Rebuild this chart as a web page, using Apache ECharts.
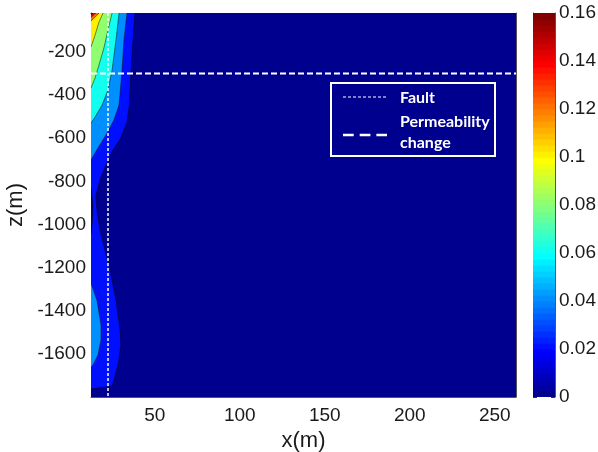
<!DOCTYPE html>
<html>
<head>
<meta charset="utf-8">
<script src="https://cdn.jsdelivr.net/npm/echarts@6/dist/echarts.min.js"></script>
<style>
  html, body { margin: 0; padding: 0; background: #ffffff; }
  #chart { width: 598px; height: 452px; }
</style>
</head>
<body>
<div id="chart"></div>
<script>
// Axis ranges and tick labels
const xRange = [12.5, 262.5];
const zRange = [-1800, -20];
const xTicks = [50, 100, 150, 200, 250];
const zTicks = [-1600, -1400, -1200, -1000, -800, -600, -400, -200];
const cbTicks = [0, 0.02, 0.04, 0.06, 0.08, 0.1, 0.12, 0.14, 0.16];
const cbRange = [0, 0.16];

// Contour levels of the filled plot
const levels = [0, 0.02, 0.04, 0.06, 0.08, 0.1, 0.12, 0.14, 0.16];

// Contour lines as [x, z] points; each starts at the top edge or the wall (x = 12.5)
// and ends on the wall, so the enclosed region lies against the wall.
const contour016 = [[13.7, -20], [12.5, -29]];
const contour014 = [[15.4, -20], [14.0, -29], [12.5, -41]];
const contour012 = [[17.2, -20], [14.9, -39], [12.5, -57]];
const contour010 = [[19.6, -20], [17.2, -62], [14.9, -122], [12.5, -178]];
const contour008 = [[24.9, -20], [22.5, -99], [20.1, -182], [17.2, -261], [14.9, -321], [12.5, -368]];
const contour006 = [[29.0, -20], [27.2, -145], [24.9, -284], [22.5, -377], [19.0, -447], [14.9, -502], [12.5, -530]];
const contour004Upper = [[33.7, -20], [31.9, -145], [30.7, -294], [29.0, -447], [26.0, -516], [21.3, -586], [16.6, -646], [12.5, -701]];
const contour004Lower = [[12.5, -1272], [16.0, -1351], [18.4, -1466], [18.4, -1536], [16.6, -1605], [13.7, -1652], [12.5, -1661]];
const contour002 = [[38.4, -20], [37.2, -145], [36.0, -294], [35.1, -447], [33.7, -525], [30.1, -600], [25.4, -655],
  [21.3, -725], [17.8, -794], [15.4, -864], [16.0, -933], [17.8, -1026], [20.7, -1119], [23.7, -1211], [27.2, -1351],
  [29.6, -1490], [30.1, -1559], [28.4, -1652], [26.0, -1721], [24.9, -1749], [12.5, -1763]];
// pocket below 0.02 against the wall
const pocket002 = [[12.5, -831], [13.7, -910], [13.1, -1003], [12.5, -1049]];

// Fault and permeability-change lines
const faultX = 22.5;
const permZ = -300;

// MATLAB-style jet colormap (64 entries)
function jet(k, m) {
  m = m || 64;
  const n = Math.ceil(m / 4);
  const u = function (j) {
    if (j < 1 || j > 3 * n - 1) return 0;
    if (j <= n) return j / n;
    if (j <= 2 * n - 1) return 1;
    return (3 * n - j) / n;
  };
  const off = Math.ceil(n / 2) - (m % 4 === 1 ? 1 : 0);
  const g = u(k - off), r = u(k - off - n), b = u(k - off + n);
  return 'rgb(' + Math.round(r * 255) + ',' + Math.round(g * 255) + ',' + Math.round(b * 255) + ')';
}
function levelColor(v) {
  const k = Math.min(64, Math.floor(v / (cbRange[1] - cbRange[0]) * 64 + 1e-9) + 1);
  return jet(k);
}

// Regions drawn from lowest to highest level
const regions = [
  { level: levels[0], line: [[xRange[0], zRange[1]], [xRange[1], zRange[1]], [xRange[1], zRange[0]], [xRange[0], zRange[0]]], edge: false },
  { level: levels[1], line: contour002, edge: true },
  { level: levels[0], line: pocket002, edge: true },
  { level: levels[2], line: contour004Upper, edge: true },
  { level: levels[2], line: contour004Lower, edge: true },
  { level: levels[3], line: contour006, edge: true },
  { level: levels[4], line: contour008, edge: true },
  { level: levels[5], line: contour010, edge: true },
  { level: levels[6], line: contour012, edge: true },
  { level: levels[7], line: contour014, edge: true },
  { level: levels[8], line: contour016, edge: true }
];

function renderRegion(params, api) {
  const reg = regions[params.dataIndex];
  const pts = reg.line.map(p => api.coord(p));
  const ring = pts.slice();
  // close along the wall, through the top-left corner when the line starts on the top edge
  const first = reg.line[0];
  if (reg.edge && first[0] !== xRange[0]) ring.push(api.coord([xRange[0], zRange[1]]));
  const children = [{
    type: 'polygon',
    shape: { points: ring },
    style: { fill: levelColor(reg.level), stroke: null }
  }];
  if (reg.edge) {
    children.push({
      type: 'polyline',
      shape: { points: pts },
      style: { fill: null, stroke: 'rgba(0,0,0,0.8)', lineWidth: 0.6 }
    });
  }
  return { type: 'group', children: children };
}

// Colorbar: one cell per colormap entry
const cbCells = [];
for (let k = 1; k <= 64; k++) cbCells.push([k]);
function renderCbCell(params, api) {
  const k = api.value(0);
  const step = (cbRange[1] - cbRange[0]) / 64;
  const p0 = api.coord([0, cbRange[0] + (k - 1) * step]);
  const p1 = api.coord([1, cbRange[0] + k * step]);
  return {
    type: 'rect',
    shape: { x: p0[0], y: p1[1], width: p1[0] - p0[0], height: p0[1] - p1[1] + 0.6 },
    style: { fill: jet(k), stroke: null }
  };
}

const tickFont = { fontFamily: 'Liberation Sans', fontSize: 19, color: '#1a1a1a' };
const frameColor = '#555555';
const tickStyle = { show: true, inside: true, length: 5, lineStyle: { color: '#333333', width: 1 } };
const plainNumber = v => String(+(+v).toFixed(2));
const legendFont = 'bold 16px Lato';

const chart = echarts.init(document.getElementById('chart'), null, { renderer: 'canvas' });
chart.setOption({
  animation: false,
  backgroundColor: '#ffffff',
  grid: [
    { left: 91, top: 13, width: 425, height: 384, containLabel: false, outerBoundsMode: 'none' },
    { left: 533, top: 13, width: 22, height: 384, containLabel: false, outerBoundsMode: 'none' }
  ],
  xAxis: [
    {
      gridIndex: 0, type: 'value', min: xRange[0], max: xRange[1], position: 'bottom',
      name: 'x(m)', nameLocation: 'middle', nameGap: 33,
      nameTextStyle: { fontFamily: 'Liberation Sans', fontSize: 22, color: '#1a1a1a' },
      axisLine: { show: true, onZero: false, lineStyle: { color: frameColor, width: 1 } },
      axisTick: Object.assign({ customValues: xTicks }, tickStyle),
      axisLabel: Object.assign({ customValues: xTicks, margin: 9, formatter: plainNumber }, tickFont),
      splitLine: { show: false }
    },
    {
      gridIndex: 0, type: 'value', min: xRange[0], max: xRange[1], position: 'top',
      axisLine: { show: true, onZero: false, lineStyle: { color: frameColor, width: 1 } },
      axisTick: Object.assign({ customValues: xTicks }, tickStyle),
      axisLabel: { show: false },
      splitLine: { show: false }
    },
    {
      gridIndex: 1, type: 'value', min: 0, max: 1, show: false
    }
  ],
  yAxis: [
    {
      gridIndex: 0, type: 'value', min: zRange[0], max: zRange[1], position: 'left',
      name: 'z(m)', nameLocation: 'middle', nameGap: 58, nameRotate: 90,
      nameTextStyle: { fontFamily: 'Liberation Sans', fontSize: 22, color: '#1a1a1a' },
      axisLine: { show: true, onZero: false, lineStyle: { color: frameColor, width: 1 } },
      axisTick: Object.assign({ customValues: zTicks }, tickStyle),
      axisLabel: Object.assign({ customValues: zTicks, margin: 5, formatter: plainNumber }, tickFont),
      splitLine: { show: false }
    },
    {
      gridIndex: 0, type: 'value', min: zRange[0], max: zRange[1], position: 'right',
      axisLine: { show: true, onZero: false, lineStyle: { color: frameColor, width: 1 } },
      axisTick: Object.assign({ customValues: zTicks }, tickStyle),
      axisLabel: { show: false },
      splitLine: { show: false }
    },
    {
      gridIndex: 1, type: 'value', min: cbRange[0], max: cbRange[1], position: 'right',
      axisLine: { show: true, onZero: false, lineStyle: { color: frameColor, width: 1 } },
      axisTick: Object.assign({ customValues: cbTicks }, tickStyle, { length: 4 }),
      axisLabel: Object.assign({ customValues: cbTicks, margin: 4, formatter: plainNumber }, tickFont),
      splitLine: { show: false }
    },
    {
      gridIndex: 1, type: 'value', min: cbRange[0], max: cbRange[1], position: 'left',
      axisLine: { show: true, onZero: false, lineStyle: { color: frameColor, width: 1 } },
      axisTick: Object.assign({ customValues: cbTicks }, tickStyle, { length: 4 }),
      axisLabel: { show: false },
      splitLine: { show: false }
    }
  ],
  series: [
    {
      type: 'custom', name: 'contours', xAxisIndex: 0, yAxisIndex: 0, clip: true, z: 1,
      data: regions.map((r, i) => [i]),
      encode: { x: [], y: [] },
      renderItem: renderRegion
    },
    {
      type: 'line', name: 'Fault', xAxisIndex: 0, yAxisIndex: 0, z: 3,
      data: [[faultX, zRange[1]], [faultX, zRange[0]]],
      symbol: 'none',
      lineStyle: { color: '#ffffff', width: 1.5, type: [3, 2] }
    },
    {
      type: 'line', name: 'Permeability change', xAxisIndex: 0, yAxisIndex: 0, z: 3,
      data: [[xRange[0], permZ], [xRange[1], permZ]],
      symbol: 'none',
      lineStyle: { color: '#ffffff', width: 2, type: [6, 3] }
    },
    {
      type: 'custom', name: 'colorbar', xAxisIndex: 2, yAxisIndex: 2, clip: true, z: 1,
      data: cbCells,
      encode: { x: [], y: [] },
      renderItem: renderCbCell
    }
  ],
  graphic: [
    { type: 'rect', z: 100, shape: { x: 331, y: 83, width: 164, height: 73 },
      style: { fill: 'rgba(0,0,0,0)', stroke: '#ffffff', lineWidth: 2 } },
    { type: 'line', z: 100, shape: { x1: 343, y1: 97, x2: 387, y2: 97 },
      style: { stroke: '#ffffff', lineWidth: 1.2, lineDash: [3, 2] } },
    { type: 'line', z: 100, shape: { x1: 343, y1: 135, x2: 387, y2: 135 },
      style: { stroke: '#ffffff', lineWidth: 2.5, lineDash: [10.7, 6] } },
    { type: 'text', z: 100, x: 400, y: 98, style: { text: 'Fault', fill: '#ffffff',
      font: legendFont, verticalAlign: 'middle' } },
    { type: 'text', z: 100, x: 400, y: 121.5, style: { text: 'Permeability', fill: '#ffffff',
      font: legendFont, verticalAlign: 'middle' } },
    { type: 'text', z: 100, x: 400, y: 143, style: { text: 'change', fill: '#ffffff',
      font: legendFont, verticalAlign: 'middle' } }
  ]
});
</script>
</body>
</html>
